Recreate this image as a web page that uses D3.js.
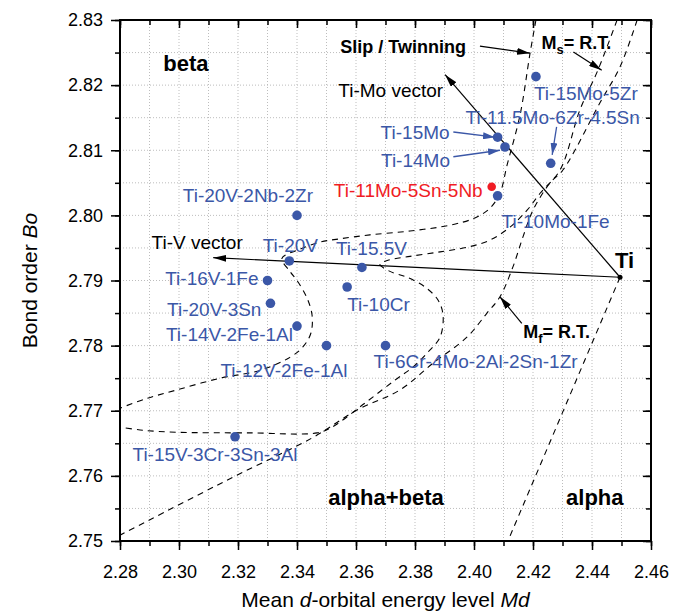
<!DOCTYPE html>
<html>
<head>
<meta charset="utf-8">
<script src="https://cdn.jsdelivr.net/npm/d3@7"></script>
<style>
  body { margin: 0; background: #fff; }
  svg { display: block; font-family: Arial, "Liberation Sans", sans-serif; }
</style>
</head>
<body>
<div id="chart"></div>
<script>
// Alloys: mean d-orbital energy level (Md) and bond order (Bo)
const alloyNames = ["Ti-15Mo-5Zr", "Ti-11.5Mo-6Zr-4.5Sn", "Ti-15Mo", "Ti-14Mo", "Ti-11Mo-5Sn-5Nb",
  "Ti-10Mo-1Fe", "Ti-20V-2Nb-2Zr", "Ti-20V", "Ti-15.5V", "Ti-16V-1Fe", "Ti-10Cr", "Ti-20V-3Sn",
  "Ti-14V-2Fe-1Al", "Ti-12V-2Fe-1Al", "Ti-6Cr-4Mo-2Al-2Sn-1Zr", "Ti-15V-3Cr-3Sn-3Al"];
const alloyMd = [2.421, 2.426, 2.408, 2.4105, 2.406, 2.408, 2.340, 2.3374, 2.362, 2.330, 2.357, 2.331,
  2.340, 2.350, 2.370, 2.319];
const alloyBo = [2.8213, 2.808, 2.812, 2.8105, 2.8044, 2.803, 2.800, 2.793, 2.792, 2.790, 2.789, 2.7865,
  2.783, 2.780, 2.780, 2.766];
const highlighted = "Ti-11Mo-5Sn-5Nb";

// pure Ti and the two alloying vectors
const tiPoint = [2.4495, 2.7905];
const moVectorEnd = [2.3902, 2.8216];
const vVectorEnd = [2.3116, 2.7935];

// dashed boundaries, [Md, Bo]
const betaBoundary = [[2.421, 2.830], [2.419, 2.8249], [2.4156, 2.8154], [2.4112, 2.8077], [2.4088, 2.8034],
  [2.4054, 2.8011], [2.4003, 2.7996], [2.3919, 2.7985], [2.3783, 2.7976], [2.3647, 2.7970], [2.3546, 2.7964],
  [2.3478, 2.7959], [2.3410, 2.7948], [2.3349, 2.7934], [2.3376, 2.7914], [2.3403, 2.7898], [2.3434, 2.7873],
  [2.3451, 2.7847], [2.3447, 2.7819], [2.3420, 2.7798], [2.3376, 2.7782], [2.3275, 2.7762], [2.3139, 2.7750],
  [2.2993, 2.7732], [2.2885, 2.7718], [2.28, 2.7704]];
const msBoundary = [[2.4485, 2.830], [2.4420, 2.8223], [2.4359, 2.8162], [2.4292, 2.8070], [2.4224, 2.8034],
  [2.4180, 2.8008], [2.4122, 2.7982], [2.4054, 2.7962], [2.3976, 2.7951], [2.3885, 2.7944], [2.3783, 2.7937],
  [2.3708, 2.7931], [2.3681, 2.7925], [2.3715, 2.7914], [2.3773, 2.7905], [2.3834, 2.7890], [2.3878, 2.7870],
  [2.3895, 2.7847], [2.3885, 2.7813], [2.3844, 2.7790], [2.3793, 2.7767], [2.3732, 2.7747], [2.3631, 2.7712],
  [2.3519, 2.7675], [2.3468, 2.7666], [2.3241, 2.7666], [2.2993, 2.7667], [2.2878, 2.7670], [2.28, 2.7675]];
const mfBoundary = [[2.4553, 2.830], [2.4495, 2.8228], [2.4427, 2.8173], [2.4302, 2.8070], [2.4258, 2.8050],
  [2.4200, 2.8008], [2.4166, 2.7967], [2.4132, 2.7921], [2.4088, 2.7875], [2.4044, 2.7850], [2.3976, 2.7813],
  [2.3861, 2.7773], [2.3749, 2.7732], [2.3603, 2.7701], [2.3454, 2.7659], [2.3183, 2.7598], [2.28, 2.7509]];
const alphaBoundary = [[2.4495, 2.7905], [2.4115, 2.750]];

// axis ticks
const xTicks = [2.28, 2.30, 2.32, 2.34, 2.36, 2.38, 2.40, 2.42, 2.44, 2.46];
const yTicks = [2.75, 2.76, 2.77, 2.78, 2.79, 2.80, 2.81, 2.82, 2.83];

// text annotations
const regionLabels = ["beta", "alpha+beta", "alpha", "Ti"];
const regionMd = [2.2947, 2.3506, 2.4312, 2.4478];
const regionBo = [2.8222, 2.7555, 2.7555, 2.7919];

// label placement around each alloy dot: [anchor, dx, dy]
const labelPlace = {
  "Ti-15Mo-5Zr": ["start", -2, 23], "Ti-11.5Mo-6Zr-4.5Sn": ["middle", 2, -39],
  "Ti-15Mo": ["end", -48, 2], "Ti-14Mo": ["end", -55, 20], "Ti-11Mo-5Sn-5Nb": ["end", -9, 10],
  "Ti-10Mo-1Fe": ["start", 4, 32], "Ti-20V-2Nb-2Zr": ["end", 16, -13], "Ti-20V": ["middle", 1, -9],
  "Ti-15.5V": ["start", -26, -12], "Ti-16V-1Fe": ["end", -9, 4], "Ti-10Cr": ["start", 0, 24],
  "Ti-20V-3Sn": ["end", -9, 13], "Ti-14V-2Fe-1Al": ["end", -4, 15], "Ti-12V-2Fe-1Al": ["end", 21, 31],
  "Ti-6Cr-4Mo-2Al-2Sn-1Zr": ["start", -12, 22], "Ti-15V-3Cr-3Sn-3Al": ["middle", -20, 24]
};

// pointer arrows from labels to dots
const pointerFrom = [[2.3930, 2.8128], [2.3930, 2.8090], [2.4280, 2.8136]];
const pointerTo = [[2.4071, 2.8120], [2.4088, 2.8100], [2.4265, 2.8093]];

const width = 686, height = 615;
const marginTop = 20, marginRight = 35, marginBottom = 74, marginLeft = 120;
const blue = "#3b57a7", red = "#f01c24";

const x = d3.scaleLinear().domain([2.28, 2.46]).range([marginLeft, width - marginRight]);
const y = d3.scaleLinear().domain([2.75, 2.83]).range([height - marginBottom, marginTop]);

const svg = d3.select("#chart").append("svg")
  .attr("width", width).attr("height", height)
  .attr("viewBox", [0, 0, width, height]);

const defs = svg.append("defs");
defs.append("clipPath").attr("id", "plot-clip")
  .append("rect")
  .attr("x", x(2.28)).attr("y", y(2.83))
  .attr("width", x(2.46) - x(2.28)).attr("height", y(2.75) - y(2.83));

function marker(id, color, len, half) {
  defs.append("marker")
    .attr("id", id)
    .attr("viewBox", `0 ${-half} ${len} ${2 * half}`)
    .attr("refX", len).attr("refY", 0)
    .attr("markerWidth", len).attr("markerHeight", 2 * half)
    .attr("markerUnits", "userSpaceOnUse")
    .attr("orient", "auto")
    .append("path")
    .attr("d", `M0,${-half}L${len},0L0,${half}Z`)
    .attr("fill", color);
}
marker("arrow-black", "#000", 13, 3.5);
marker("arrow-blue", blue, 12, 3.5);

// grid (dotted, every minor tick)
const grid = svg.append("g")
  .attr("stroke", "#bdbdbd").attr("stroke-width", 1).attr("stroke-dasharray", "1,2");
grid.selectAll("line.v")
  .data(d3.range(1, 18).map(i => 2.28 + i * 0.01))
  .join("line")
  .attr("x1", d => x(d)).attr("x2", d => x(d))
  .attr("y1", y(2.75)).attr("y2", y(2.83));
grid.selectAll("line.h")
  .data(d3.range(1, 16).map(i => 2.75 + i * 0.005))
  .join("line")
  .attr("x1", x(2.28)).attr("x2", x(2.46))
  .attr("y1", d => y(d)).attr("y2", d => y(d));

// axes
const xMinor = d3.range(0, 19).map(i => 2.28 + i * 0.01);
const yMinor = d3.range(0, 17).map(i => 2.75 + i * 0.005);

function styleAxis(g) {
  g.select(".domain").remove();
  g.selectAll(".tick line").attr("stroke", "#000").attr("stroke-width", 1.5);
  g.selectAll(".tick text").attr("font-size", 18).attr("fill", "#000")
    .attr("font-family", "Arial, 'Liberation Sans', sans-serif");
}

svg.append("g")
  .attr("transform", `translate(0,${y(2.75)})`)
  .call(d3.axisBottom(x).tickValues(xMinor).tickSize(5).tickFormat(""))
  .call(styleAxis);
svg.append("g")
  .attr("transform", `translate(0,${y(2.75)})`)
  .call(d3.axisBottom(x).tickValues(xTicks).tickSize(9).tickPadding(15).tickFormat(d3.format(".2f")))
  .call(styleAxis);

svg.append("g")
  .attr("transform", `translate(${x(2.28)},0)`)
  .call(d3.axisLeft(y).tickValues(yMinor).tickSize(5).tickFormat(""))
  .call(styleAxis);
svg.append("g")
  .attr("transform", `translate(${x(2.28)},0)`)
  .call(d3.axisLeft(y).tickValues(yTicks).tickSize(9).tickPadding(8).tickFormat(d3.format(".2f")))
  .call(styleAxis);

// mirrored inner ticks on top and right
svg.append("g")
  .attr("transform", `translate(0,${y(2.83)})`)
  .call(d3.axisBottom(x).tickValues(xMinor).tickSize(5).tickFormat(""))
  .call(styleAxis);
svg.append("g")
  .attr("transform", `translate(0,${y(2.83)})`)
  .call(d3.axisBottom(x).tickValues(xTicks).tickSize(8).tickFormat(""))
  .call(styleAxis);
svg.append("g")
  .attr("transform", `translate(${x(2.46)},0)`)
  .call(d3.axisLeft(y).tickValues(yMinor).tickSize(5).tickFormat(""))
  .call(styleAxis);
svg.append("g")
  .attr("transform", `translate(${x(2.46)},0)`)
  .call(d3.axisLeft(y).tickValues(yTicks).tickSize(8).tickFormat(""))
  .call(styleAxis);

// frame
svg.append("rect")
  .attr("x", x(2.28)).attr("y", y(2.83))
  .attr("width", x(2.46) - x(2.28)).attr("height", y(2.75) - y(2.83))
  .attr("fill", "none").attr("stroke", "#000").attr("stroke-width", 2);

// axis titles
const xTitle = svg.append("text")
  .attr("x", (x(2.28) + x(2.46)) / 2).attr("y", 607)
  .attr("text-anchor", "middle").attr("font-size", 21).attr("fill", "#000");
xTitle.append("tspan").text("Mean ");
xTitle.append("tspan").attr("font-style", "italic").text("d");
xTitle.append("tspan").text("-orbital energy level ");
xTitle.append("tspan").attr("font-style", "italic").text("Md");

const yTitle = svg.append("text")
  .attr("transform", `translate(37,${(y(2.75) + y(2.83)) / 2}) rotate(-90)`)
  .attr("text-anchor", "middle").attr("font-size", 21).attr("fill", "#000");
yTitle.append("tspan").text("Bond order ");
yTitle.append("tspan").attr("font-style", "italic").text("Bo");

// dashed boundaries
const plot = svg.append("g").attr("clip-path", "url(#plot-clip)");
const curve = d3.line()
  .x(d => x(d[0])).y(d => y(d[1]))
  .curve(d3.curveCatmullRom.alpha(0.5));

plot.append("g")
  .attr("fill", "none").attr("stroke", "#000").attr("stroke-width", 1.1)
  .attr("stroke-dasharray", "6,5")
  .selectAll("path")
  .data([betaBoundary, msBoundary, mfBoundary, alphaBoundary])
  .join("path")
  .attr("d", d => curve(d));

// Ti-Mo and Ti-V vectors
svg.append("g")
  .attr("stroke", "#000").attr("stroke-width", 1.2)
  .selectAll("line")
  .data([moVectorEnd, vVectorEnd])
  .join("line")
  .attr("x1", x(tiPoint[0])).attr("y1", y(tiPoint[1]))
  .attr("x2", d => x(d[0])).attr("y2", d => y(d[1]))
  .attr("marker-end", "url(#arrow-black)");

svg.append("circle")
  .attr("cx", x(tiPoint[0])).attr("cy", y(tiPoint[1]))
  .attr("r", 2.5).attr("fill", "#000");

// alloy dots
const alloys = alloyNames.map((name, i) => ({ name, md: alloyMd[i], bo: alloyBo[i] }));

svg.append("g")
  .selectAll("circle")
  .data(alloys)
  .join("circle")
  .attr("cx", d => x(d.md)).attr("cy", d => y(d.bo))
  .attr("r", d => d.name === highlighted ? 4.3 : 4.8)
  .attr("fill", d => d.name === highlighted ? red : blue);

svg.append("g")
  .attr("font-size", 19)
  .selectAll("text")
  .data(alloys)
  .join("text")
  .attr("x", d => x(d.md) + labelPlace[d.name][1])
  .attr("y", d => y(d.bo) + labelPlace[d.name][2])
  .attr("text-anchor", d => labelPlace[d.name][0])
  .attr("fill", d => d.name === highlighted ? red : blue)
  .text(d => d.name);

// pointer arrows from labels
svg.append("g")
  .attr("stroke", blue).attr("stroke-width", 1.3)
  .selectAll("line")
  .data(pointerFrom.map((f, i) => [f, pointerTo[i]]))
  .join("line")
  .attr("x1", d => x(d[0][0])).attr("y1", d => y(d[0][1]))
  .attr("x2", d => x(d[1][0])).attr("y2", d => y(d[1][1]))
  .attr("marker-end", "url(#arrow-blue)");

// region labels
svg.append("g")
  .attr("font-size", 22).attr("font-weight", "bold").attr("fill", "#000")
  .selectAll("text")
  .data(regionLabels)
  .join("text")
  .attr("x", (d, i) => x(regionMd[i]))
  .attr("y", (d, i) => y(regionBo[i]))
  .text(d => d);

// vector captions
svg.append("text")
  .attr("x", x(2.3540)).attr("y", y(2.8182))
  .attr("font-size", 19).attr("fill", "#000").text("Ti-Mo vector");
svg.append("text")
  .attr("x", x(2.2907)).attr("y", y(2.7949))
  .attr("font-size", 19).attr("fill", "#000").text("Ti-V vector");

// boundary annotations with arrows
svg.append("text")
  .attr("x", x(2.3547)).attr("y", y(2.8249))
  .attr("font-size", 18).attr("font-weight", "bold").attr("fill", "#000")
  .text("Slip / Twinning");

function transLabel(md, bo, sub) {
  const t = svg.append("text")
    .attr("x", x(md)).attr("y", y(bo))
    .attr("font-size", 18).attr("font-weight", "bold").attr("fill", "#000");
  t.append("tspan").text("M");
  t.append("tspan").attr("font-size", 13).attr("dy", 5).text(sub);
  t.append("tspan").attr("dy", -5).text("= R.T.");
}
transLabel(2.4229, 2.8255, "s");
transLabel(2.4167, 2.7812, "f");

const annotFrom = [[2.4020, 2.8260], [2.4337, 2.8251], [2.4162, 2.7834]];
const annotTo = [[2.4190, 2.8249], [2.4433, 2.8223], [2.4088, 2.7875]];
svg.append("g")
  .attr("stroke", "#000").attr("stroke-width", 1.2)
  .selectAll("line")
  .data(annotFrom.map((f, i) => [f, annotTo[i]]))
  .join("line")
  .attr("x1", d => x(d[0][0])).attr("y1", d => y(d[0][1]))
  .attr("x2", d => x(d[1][0])).attr("y2", d => y(d[1][1]))
  .attr("marker-end", "url(#arrow-black)");
</script>
</body>
</html>
